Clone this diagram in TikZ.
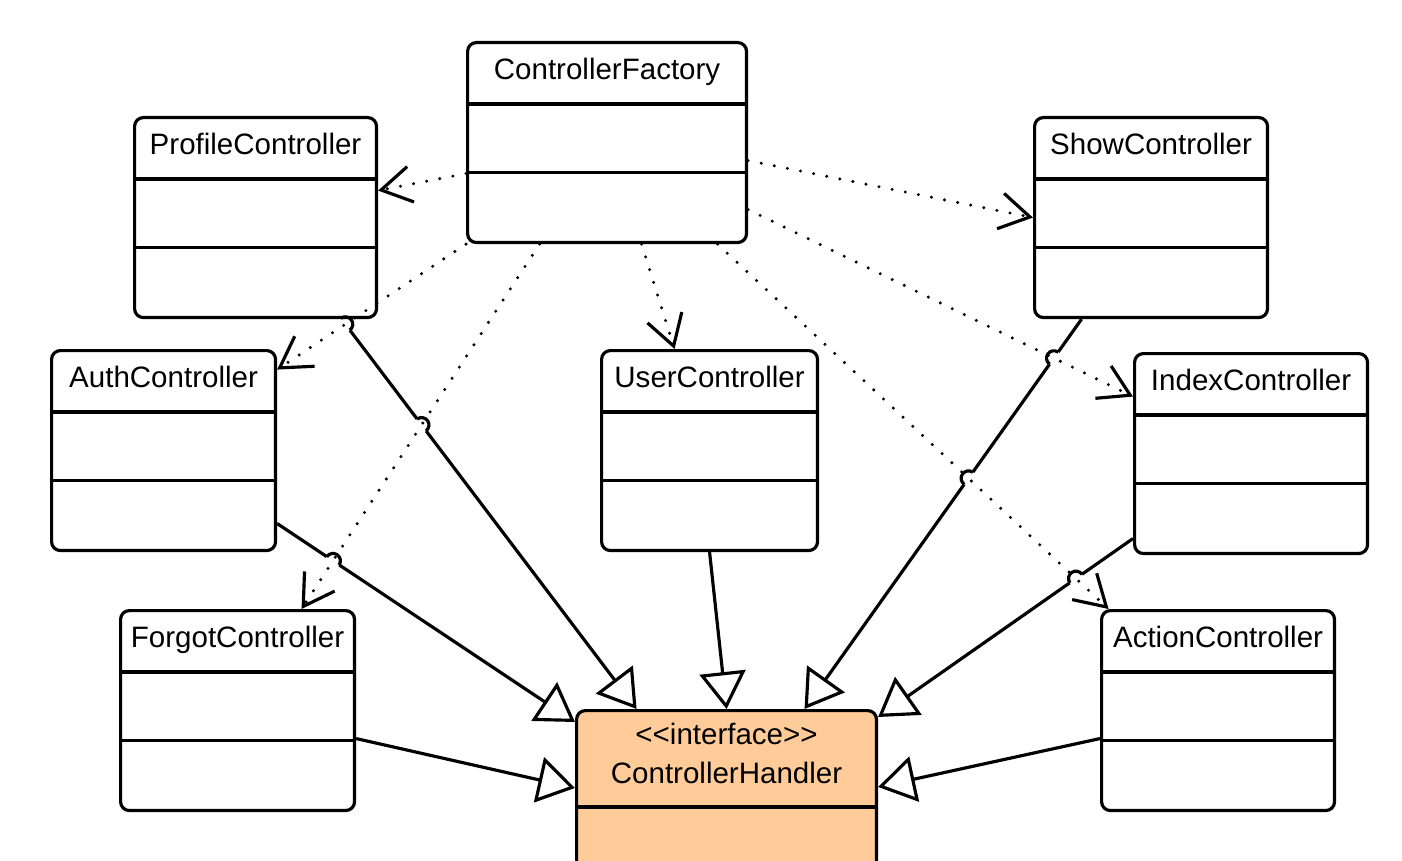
\documentclass[tikz,border=0pt]{standalone}
\usepackage{fontspec}
\setmainfont{Liberation Sans}
\usetikzlibrary{arrows.meta,calc,intersections}
\definecolor{handlerfill}{RGB}{255,204,153}
\pgfdeclarelayer{back}
\pgfdeclarelayer{front}
\pgfsetlayers{back,main,front}

\tikzset{
  classbox/.style={draw=black, line width=1.8pt, rounded corners=5pt, anchor=north west,
    inner xsep=0pt, inner ysep=0pt, minimum width=#1, text height=0.74cm, text depth=3.26cm,
    font=\fontsize{16.8}{22.1}\selectfont},
  dep/.style={line width=1.9pt, line cap=round, dash pattern=on 0pt off 7.6pt,
    -{Straight Barb[length=0.6cm, width=0.72cm, line width=1.8pt]}},
  real/.style={line width=1.8pt, -{Triangle[length=0.74cm, width=0.92cm, fill=white]}}
}

% small jump of a solid line over a dotted one
\newcommand{\linehop}[3]{%
  \draw[white, line width=2.8pt] let \p1=($(#2)-(#1)$), \n1={atan2(\y1,\x1)} in
    ($(#3)+(\n1:4.2pt)$) -- ($(#3)+(\n1+180:4.2pt)$);
  \draw[line width=1.8pt] let \p1=($(#2)-(#1)$), \n1={atan2(\y1,\x1)} in
    ($(#3)+(\n1+180:4.2pt)$) arc[start angle=\n1+180, delta angle=-180, radius=4.2pt];
}

\begin{document}
\begin{tikzpicture}[x=0.02cm, y=0.02cm]
            \useasboundingbox (0,0) rectangle (1402,860);

            % classes
            \node[classbox=5.58cm] (fac) at (466,819) {ControllerFactory};
            \node[classbox=4.84cm] (prof) at (133,744) {ProfileController};
            \node[classbox=4.66cm] (show) at (1033,744) {ShowController};
            \node[classbox=4.48cm] (auth) at (50,511) {AuthController};
            \node[classbox=4.32cm] (user) at (600,511) {UserController};
            \node[classbox=4.66cm] (index) at (1133,508) {IndexController};
            \node[classbox=4.68cm] (forgot) at (119,251) {ForgotController};
            \node[classbox=4.66cm] (action) at (1100,251) {ActionController};
            \node[classbox=6cm, fill=handlerfill, text height=0.68cm, text depth=4.04cm] (handler) at (575,151)
                {\begin{tabular}[t]{@{}c@{}}<\kern0pt<interface>\kern0pt>\\ControllerHandler\end{tabular}};

            % compartments
            \foreach \c in {fac,prof,show,auth,user,index,forgot,action}
                \draw[line width=1.8pt] ([yshift=-1.26cm]\c.north west) -- ([yshift=-1.26cm]\c.north east)
                    ([yshift=-2.63cm]\c.north west) -- ([yshift=-2.63cm]\c.north east);
            \draw[line width=1.8pt] ([yshift=-1.96cm]handler.north west) -- ([yshift=-1.96cm]handler.north east)
                ([yshift=-3.32cm]handler.north west) -- ([yshift=-3.32cm]handler.north east);

            % dependencies
            \begin{pgfonlayer}{front}
            \draw[dep] ([yshift=-0.62cm]fac.west) -- ([yshift=0.54cm]prof.east);
            \draw[dep] ([yshift=-0.36cm]fac.east) -- (show.west);
            \draw[dep, name path global=dAuth] (fac.south west) -- ([yshift=1.62cm]auth.east);
            \draw[dep, name path global=dForgot] ([xshift=-1.35cm]fac.south) -- ([xshift=1.28cm]forgot.north);
            \draw[dep] ([xshift=0.69cm]fac.south) -- ([xshift=-0.7cm]user.north);
            \draw[dep, name path global=dIndex] ([yshift=-1.34cm]fac.east) -- ([yshift=1.14cm]index.west);
            \draw[dep, name path global=dAction] ([xshift=2.21cm]fac.south) -- ([xshift=-2.19cm]action.north);
            \end{pgfonlayer}

            % realizations
            \begin{pgfonlayer}{back}
            \draw[real, name path global=sProf] ([xshift=1.72cm]prof.south) -- ([xshift=-1.8cm]handler.north);
            \draw[real, name path global=sAuth] ([yshift=-1.46cm]auth.east) -- ([yshift=-0.26cm]handler.north west);
            \draw[real] ([yshift=-0.56cm]forgot.east) -- ([yshift=-1.58cm]handler.north west);
            \draw[real] (user.south) -- (handler.north);
            \draw[real, name path global=sShow] ([xshift=-1.39cm]show.south) -- ([xshift=1.56cm]handler.north);
            \draw[real, name path global=sIndex] ([yshift=-1.7cm]index.west) -- ([yshift=-0.16cm]handler.north east);
            \draw[real] ([yshift=-0.56cm]action.west) -- ([yshift=-1.56cm]handler.north east);

            % line jumps
            \path[name intersections={of=sProf and dAuth, by=j1}];
            \path[name intersections={of=sProf and dForgot, by=j2}];
            \path[name intersections={of=sAuth and dForgot, by=j3}];
            \path[name intersections={of=sShow and dIndex, by=j4}];
            \path[name intersections={of=sShow and dAction, by=j5}];
            \path[name intersections={of=sIndex and dAction, by=j6}];
            \linehop{[xshift=1.72cm]prof.south}{[xshift=-1.8cm]handler.north}{j1}
            \linehop{[xshift=1.72cm]prof.south}{[xshift=-1.8cm]handler.north}{j2}
            \linehop{[yshift=-1.46cm]auth.east}{[yshift=-0.26cm]handler.north west}{j3}
            \linehop{[xshift=1.56cm]handler.north}{[xshift=-1.39cm]show.south}{j4}
            \linehop{[xshift=1.56cm]handler.north}{[xshift=-1.39cm]show.south}{j5}
            \linehop{[yshift=-0.16cm]handler.north east}{[yshift=-1.7cm]index.west}{j6}
            \end{pgfonlayer}
        \end{tikzpicture}
\end{document}
